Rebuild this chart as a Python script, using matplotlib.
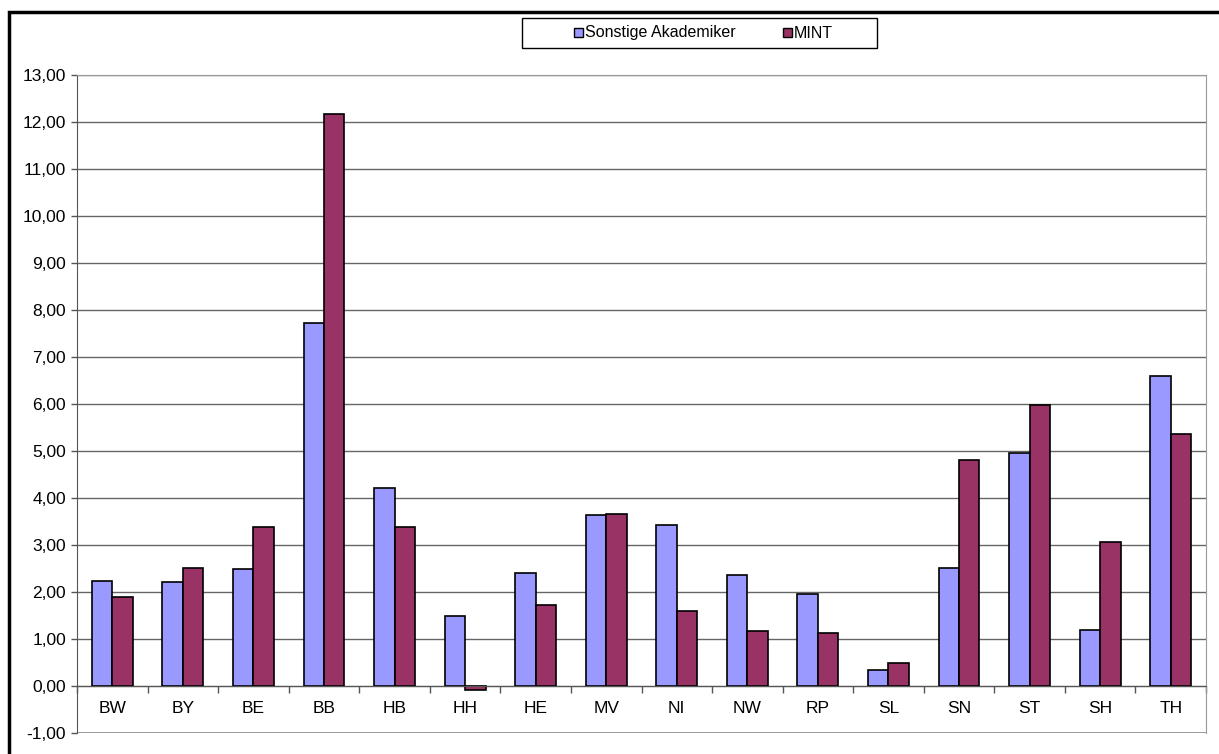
import matplotlib
matplotlib.use("Agg")
import matplotlib.pyplot as plt
import numpy as np
from matplotlib.patches import Rectangle

categories = ["BW", "BY", "BE", "BB", "HB", "HH", "HE", "MV", "NI", "NW", "RP", "SL", "SN", "ST", "SH", "TH"]
sonstige = [2.23, 2.21, 2.49, 7.72, 4.21, 1.48, 2.41, 3.64, 3.43, 2.37, 1.95, 0.35, 2.51, 4.95, 1.20, 6.60]
mint = [1.89, 2.51, 3.38, 12.17, 3.39, -0.08, 1.73, 3.67, 1.59, 1.17, 1.12, 0.49, 4.81, 5.98, 3.06, 5.37]
yticks = [-1, 0, 1, 2, 3, 4, 5, 6, 7, 8, 9, 10, 11, 12, 13]
series_names = ["Sonstige Akademiker", "MINT"]
series_colors = ["#9999FF", "#993366"]

plt.rcParams['font.family'] = ['Liberation Sans', 'DejaVu Sans']

W, H = 1219, 754
fig = plt.figure(figsize=(W / 100, H / 100), dpi=100)
ax = fig.add_axes([77 / W, 1 - 733 / H, (1206 - 77) / W, (733 - 75) / H])

ax.spines["bottom"].set_position(("data", 0))

x = np.arange(len(categories))
bw = 0.29
ax.bar(x - bw / 2, sonstige, bw, color=series_colors[0], edgecolor="black", linewidth=1.2, zorder=3)
ax.bar(x + bw / 2, mint, bw, color=series_colors[1], edgecolor="black", linewidth=1.2, zorder=3)

ax.set_xlim(-0.5, len(categories) - 0.5)
ax.set_ylim(-1, 13)
ax.set_yticks(yticks)
ax.set_yticklabels([f"{v:.2f}".replace(".", ",") for v in yticks])
ax.yaxis.grid(True, color="#666666", linewidth=1.0, zorder=0)
ax.tick_params(axis="y", length=4, width=1, color="#555555", pad=4, labelsize=12.5)

ax.set_xticks(x)
ax.set_xticklabels(categories)
ax.tick_params(axis="x", which="major", length=0, pad=11, labelsize=12.5)
ax.set_xticks(np.arange(len(categories) + 1) - 0.5, minor=True)
ax.tick_params(axis="x", which="minor", length=5, width=1, color="#555555")

ax.spines["bottom"].set_color("#555555")
ax.spines["bottom"].set_zorder(4)
ax.spines["left"].set_color("#555555")
ax.spines["right"].set_color("#999999")
ax.spines["top"].set_color("#999999")
ax.axhline(-1, color="#999999", linewidth=1.2, zorder=1)

# outer chart frame
fig.add_artist(Rectangle((9 / W, -0.02), 1.05, 1 - 12 / H + 0.02, transform=fig.transFigure,
                         fill=False, edgecolor="black", linewidth=2.5))

def fx(px):
    return px / W

def fy(py):
    return 1 - py / H

# legend box (drawn manually to match layout)
fig.add_artist(Rectangle((fx(522), fy(48)), fx(877) - fx(522), fy(18) - fy(48),
                         transform=fig.transFigure, fill=True, facecolor="white",
                         edgecolor="black", linewidth=1.0))
for mx, tx, name, col in [(574, 586, series_names[0], series_colors[0]),
                          (783, 795, series_names[1], series_colors[1])]:
    fig.add_artist(Rectangle((fx(mx), fy(37)), fx(9), 9 / H, transform=fig.transFigure,
                             facecolor=col, edgecolor="black", linewidth=1.0))
    fig.text(fx(tx - 1), fy(33), name, fontsize=11.5, ha="left", va="center")

fig.savefig("out.png", dpi=100)
